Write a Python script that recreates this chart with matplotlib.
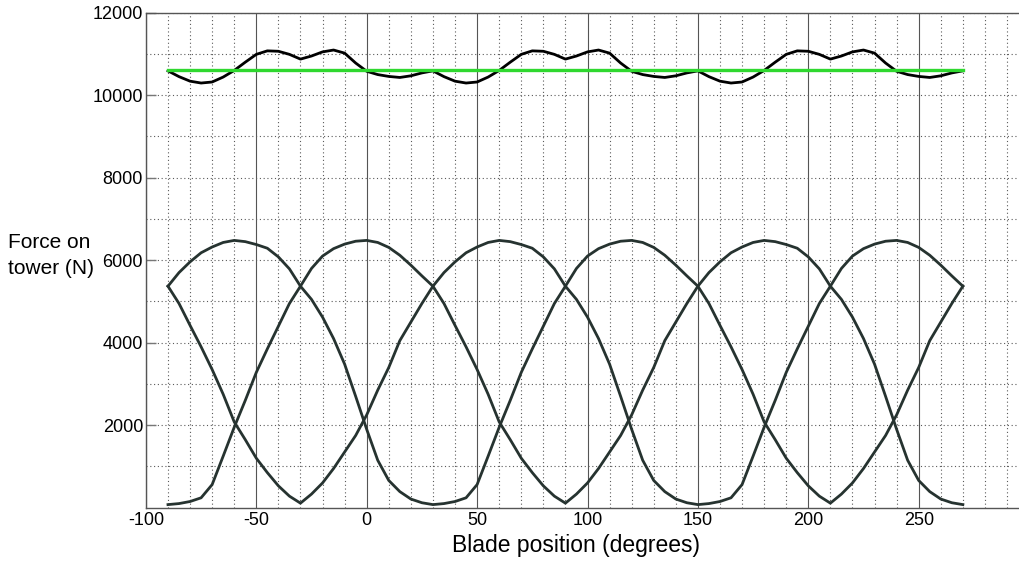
import matplotlib
matplotlib.use("Agg")
import matplotlib.pyplot as plt
from matplotlib.ticker import FixedLocator

# Blade angle samples (degrees)
blade_angle = list(range(-90, 271, 5))

# Force contributed by each of the three blades (N)
blade1 = [5370, 5700, 5960, 6180, 6320, 6430, 6480, 6450, 6380, 6290, 6080, 5790,
          5370, 5050, 4620, 4100, 3480, 2700, 1900, 1150, 660, 390, 210, 120,
          75, 100, 150, 240, 560, 1250, 1950, 2600, 3280, 3850, 4400, 4950,
          5370, 5800, 6100, 6280, 6390, 6460, 6480, 6430, 6310, 6120, 5880, 5620,
          5370, 4950, 4420, 3900, 3350, 2750, 2080, 1650, 1200, 850, 530, 280,
          110, 330, 600, 950, 1350, 1750, 2250, 2850, 3400, 4050, 4500, 4950,
          5370]
blade2 = [75, 100, 150, 240, 560, 1250, 1950, 2600, 3280, 3850, 4400, 4950,
          5370, 5800, 6100, 6280, 6390, 6460, 6480, 6430, 6310, 6120, 5880, 5620,
          5370, 4950, 4420, 3900, 3350, 2750, 2080, 1650, 1200, 850, 530, 280,
          110, 330, 600, 950, 1350, 1750, 2250, 2850, 3400, 4050, 4500, 4950,
          5370, 5700, 5960, 6180, 6320, 6430, 6480, 6450, 6380, 6290, 6080, 5790,
          5370, 5050, 4620, 4100, 3480, 2700, 1900, 1150, 660, 390, 210, 120,
          75]
blade3 = [5370, 4950, 4420, 3900, 3350, 2750, 2080, 1650, 1200, 850, 530, 280,
          110, 330, 600, 950, 1350, 1750, 2250, 2850, 3400, 4050, 4500, 4950,
          5370, 5700, 5960, 6180, 6320, 6430, 6480, 6450, 6380, 6290, 6080, 5790,
          5370, 5050, 4620, 4100, 3480, 2700, 1900, 1150, 660, 390, 210, 120,
          75, 100, 150, 240, 560, 1250, 1950, 2600, 3280, 3850, 4400, 4950,
          5370, 5800, 6100, 6280, 6390, 6460, 6480, 6430, 6310, 6120, 5880, 5620,
          5370]

# Total force on the tower (N)
total_force = [10590, 10450, 10340, 10295, 10320, 10440, 10600, 10800, 10990, 11075, 11065, 10990,
               10875, 10950, 11050, 11095, 11020, 10780, 10580, 10500, 10455, 10430, 10470, 10540,
               10590, 10450, 10340, 10295, 10320, 10440, 10600, 10800, 10990, 11075, 11065, 10990,
               10875, 10950, 11050, 11095, 11020, 10780, 10580, 10500, 10455, 10430, 10470, 10540,
               10590, 10450, 10340, 10295, 10320, 10440, 10600, 10800, 10990, 11075, 11065, 10990,
               10875, 10950, 11050, 11095, 11020, 10780, 10580, 10500, 10455, 10430, 10470, 10540,
               10590]

# Mean force over the revolution (N)
mean_force = 10620

x_major = [-100, -50, 0, 50, 100, 150, 200, 250]
x_minor = [v for v in range(-90, 300, 10) if v % 50 != 0]
y_major = [2000, 4000, 6000, 8000, 10000, 12000]
y_minor = [1000, 3000, 5000, 7000, 9000, 11000]

W, H = 1019, 561
fig = plt.figure(figsize=(W / 100, H / 100), dpi=100)
left_px, top_px, bottom_px = 145.9, 12.7, 507.7
width_px = 400 * 2.208
height_px = bottom_px - top_px
ax = fig.add_axes([left_px / W, 1 - bottom_px / H, width_px / W, height_px / H])

ax.set_xlim(-100, 300)
ax.set_ylim(0, 12000)

ax.xaxis.set_major_locator(FixedLocator(x_major))
ax.xaxis.set_minor_locator(FixedLocator(x_minor))
ax.yaxis.set_major_locator(FixedLocator(y_major))
ax.yaxis.set_minor_locator(FixedLocator(y_minor))
ax.set_xticklabels([str(v) for v in x_major])
ax.set_yticklabels([str(v) for v in y_major])

font = "Liberation Sans"
for lbl in ax.get_xticklabels() + ax.get_yticklabels():
    lbl.set_fontfamily(font)
    lbl.set_fontsize(13)

ax.set_axisbelow(True)
dot = (0, (1, 2.4))
ax.grid(True, axis="x", which="major", color="#555555", linestyle="-", linewidth=0.8)
ax.grid(True, axis="x", which="minor", color="#5a5a5a", linestyle=dot, linewidth=0.8)
ax.grid(True, axis="y", which="both", color="#5a5a5a", linestyle=dot, linewidth=0.8)

ax.tick_params(axis="x", which="both", length=0, pad=3)
ax.tick_params(axis="y", which="major", direction="in", length=7, width=1.0,
               color="#777777", pad=2)
ax.tick_params(axis="y", which="minor", length=0)

for side in ("left", "top", "bottom"):
    ax.spines[side].set_color("#555555")
    ax.spines[side].set_linewidth(1.0)
ax.spines["right"].set_visible(False)

curve_color = "#263330"
for series in (blade1, blade2, blade3):
    ax.plot(blade_angle, series, color=curve_color, linewidth=2.0,
            solid_joinstyle="round", zorder=3)
ax.plot(blade_angle, total_force, color="black", linewidth=2.0,
        solid_joinstyle="round", zorder=3)
ax.plot([blade_angle[0], blade_angle[-1]], [mean_force, mean_force],
        color="#2fd82f", linewidth=2.4, zorder=4)

ax.set_xlabel("Blade position (degrees)", fontfamily=font, fontsize=16.5, va="baseline")
ax.xaxis.set_label_coords((575.5 - left_px) / width_px, (bottom_px - 551.7) / height_px)

# Horizontal axis title on the left, one text per line
fig.text(8 / W, 1 - 248.3 / H, "Force on", ha="left", va="baseline",
         fontfamily=font, fontsize=15)
fig.text(8 / W, 1 - 274.0 / H, "tower (N)", ha="left", va="baseline",
         fontfamily=font, fontsize=15)

fig.savefig("out.png", dpi=100)
